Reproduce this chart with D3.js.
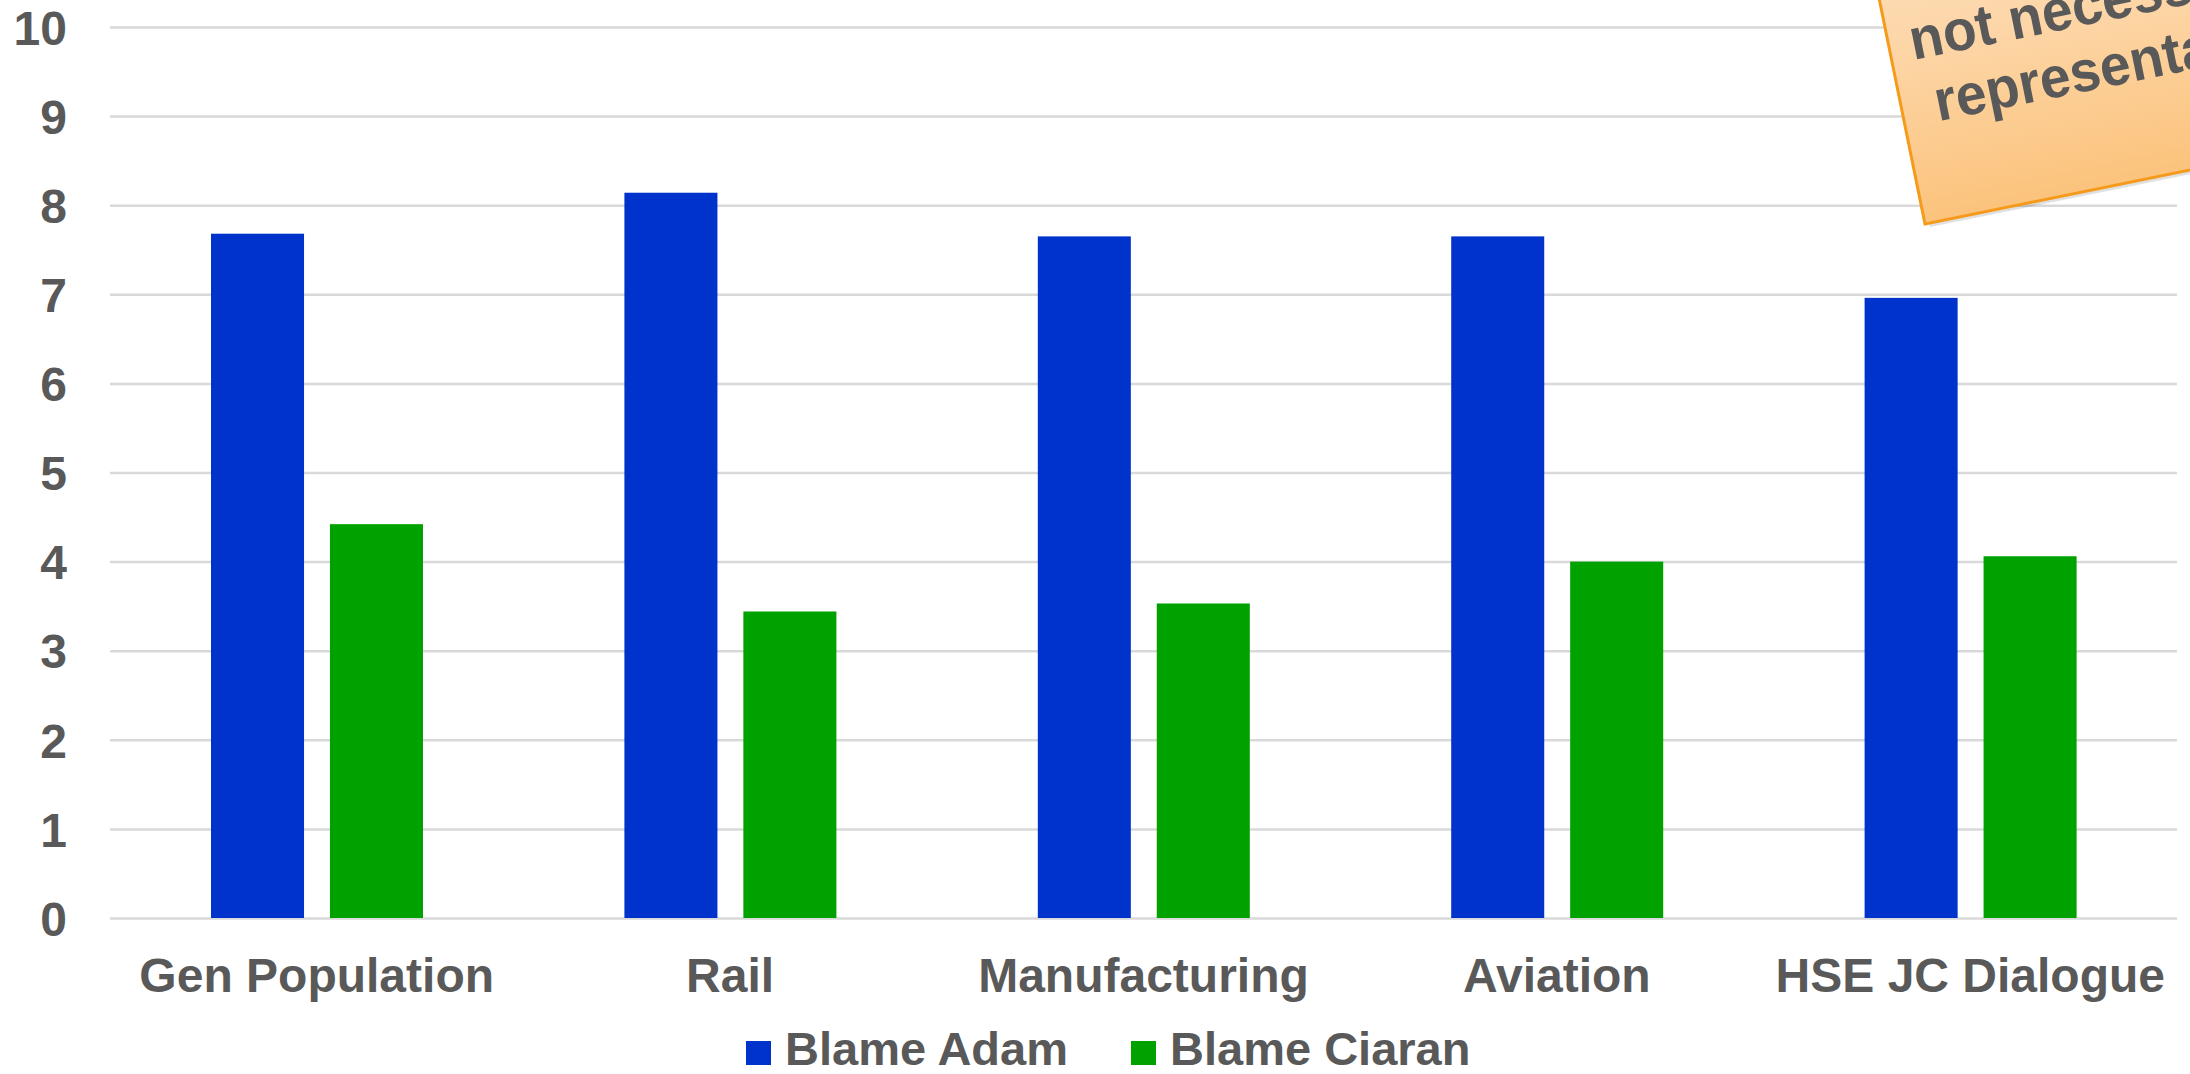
<!DOCTYPE html>
<html>
<head>
<meta charset="utf-8">
<script src="https://cdn.jsdelivr.net/npm/d3@7"></script>
<style>
  html, body { margin: 0; padding: 0; background: #fff; overflow: hidden; }
  text { font-family: "Liberation Sans", Arial, sans-serif; font-weight: bold; fill: #595959; }
</style>
</head>
<body>
<div id="chart"></div>
<script>
var categories = ["Gen Population", "Rail", "Manufacturing", "Aviation", "HSE JC Dialogue"];
var seriesNames = ["Blame Adam", "Blame Ciaran"];
var blameAdam = [7.68, 8.14, 7.65, 7.65, 6.96];
var blameCiaran = [4.42, 3.44, 3.53, 4.0, 4.06];
var yTicks = [0, 1, 2, 3, 4, 5, 6, 7, 8, 9, 10];
var noteLines = ["not necessarily", "representative"];
var colors = ["#0033cc", "#00a200"];

function init() {
    var w = 2190;
    var h = 1074;
    var margin = { left: 110, right: 13, top: 27, bottom: 156 };

    var svg = d3.select("#chart")
        .append("svg")
        .attr("width", w)
        .attr("height", h);

    var xScale = d3.scaleBand()
        .domain(categories)
        .range([margin.left, w - margin.right]);

    // the two bars sit in the middle of each category
    var xInner = d3.scaleBand()
        .domain(seriesNames)
        .range([101, 313])
        .paddingInner(0.218);

    var yScale = d3.scaleLinear()
        .domain([0, 10])
        .range([h - margin.bottom, margin.top]);

    // gridlines + y labels
    var yAxis = d3.axisLeft(yScale)
        .tickValues(yTicks)
        .tickFormat(d3.format("d"))
        .tickSize(-(w - margin.left - margin.right))
        .tickPadding(43);

    var gy = svg.append("g")
        .attr("transform", "translate(" + margin.left + ",0)")
        .call(yAxis);
    gy.select(".domain").remove();
    gy.selectAll("line")
        .attr("stroke", "#d9d9d9")
        .attr("stroke-width", 2.5);
    gy.selectAll("text")
        .attr("font-size", 48)
        .attr("dy", "0.36em")
        .attr("fill", "#595959");

    var rows = categories.map(function (c, i) {
        return { cat: c, values: [blameAdam[i], blameCiaran[i]] };
    });

    var groups = svg.selectAll(".grp")
        .data(rows)
        .enter()
        .append("g")
        .attr("class", "grp")
        .attr("transform", function (d) { return "translate(" + xScale(d.cat) + ",0)"; });

    groups.selectAll("rect")
        .data(function (d) {
            return d.values.map(function (v, j) { return { s: seriesNames[j], v: v, j: j }; });
        })
        .enter()
        .append("rect")
        .attr("x", function (d) { return xInner(d.s); })
        .attr("y", function (d) { return yScale(d.v); })
        .attr("width", xInner.bandwidth())
        .attr("height", function (d) { return yScale(0) - yScale(d.v); })
        .attr("fill", function (d) { return colors[d.j]; });

    // category labels
    var xAxis = d3.axisBottom(xScale)
        .tickSize(0)
        .tickPadding(40);

    var gx = svg.append("g")
        .attr("transform", "translate(0," + yScale(0) + ")")
        .call(xAxis);
    gx.select(".domain").remove();
    gx.selectAll("text")
        .attr("font-size", 48)
        .attr("fill", "#595959");

    // legend
    var legendX = [746, 1131];
    var legend = svg.selectAll(".legend")
        .data(seriesNames)
        .enter()
        .append("g")
        .attr("class", "legend")
        .attr("transform", function (d, i) { return "translate(" + legendX[i] + ",1041)"; });

    legend.append("rect")
        .attr("width", 25)
        .attr("height", 24)
        .attr("fill", function (d, i) { return colors[i]; });

    legend.append("text")
        .attr("x", 39)
        .attr("y", 24)
        .attr("font-size", 47)
        .text(function (d) { return d; });

    // sticky note in the corner
    var defs = svg.append("defs");
    var grad = defs.append("linearGradient")
        .attr("id", "noteGrad")
        .attr("x1", 0).attr("y1", 0)
        .attr("x2", 0).attr("y2", 1);
    grad.append("stop").attr("offset", "0%").attr("stop-color", "#fde6cd");
    grad.append("stop").attr("offset", "55%").attr("stop-color", "#fdd6a8");
    grad.append("stop").attr("offset", "100%").attr("stop-color", "#fbc37c");

    var note = svg.append("g")
        .attr("transform", "translate(1925,224) rotate(-11.5)");

    note.append("rect")
        .attr("x", 4)
        .attr("y", -396)
        .attr("width", 600)
        .attr("height", 400)
        .attr("fill", "#000")
        .attr("opacity", 0.12);

    note.append("rect")
        .attr("x", 0)
        .attr("y", -400)
        .attr("width", 600)
        .attr("height", 400)
        .attr("fill", "url(#noteGrad)")
        .attr("stroke", "#f59a1b")
        .attr("stroke-width", 3);

    // text is a bit condensed in the original
    note.append("g")
        .attr("transform", "scale(0.95,1)")
        .selectAll(".noteText")
        .data(noteLines)
        .enter()
        .append("text")
        .attr("class", "noteText")
        .attr("x", 222 / 0.95)
        .attr("y", function (d, i) { return -163 + i * 65; })
        .attr("text-anchor", "middle")
        .attr("font-size", 58)
        .text(function (d) { return d; });
}

window.onload = init;
</script>
</body>
</html>
